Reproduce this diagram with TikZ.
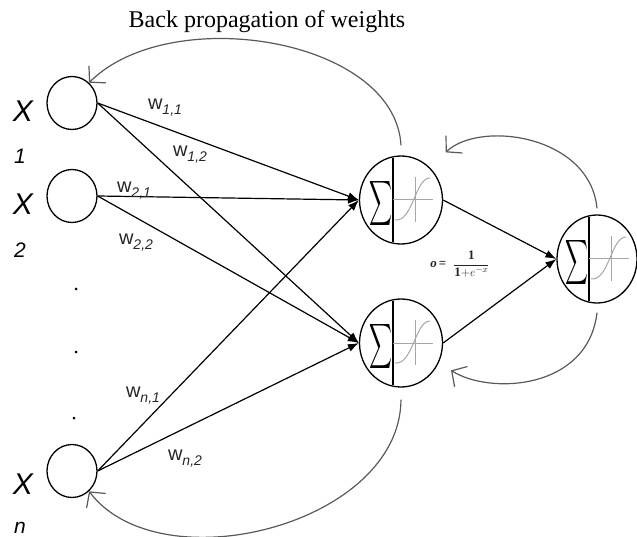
\documentclass[tikz,border=0pt]{standalone}
\usepackage{fontspec}
\setmainfont{Liberation Serif}
\setsansfont{Liberation Sans}
\usetikzlibrary{shapes.geometric,arrows.meta}
\tikzset{
  inp/.style={draw,ellipse,line width=1.3pt,minimum width=50pt,minimum height=53pt,inner sep=0pt},
  neuron/.style={draw,ellipse,line width=1.3pt,minimum width=83pt,minimum height=88pt,inner sep=0pt},
  conn/.style={line width=1.2pt,-{Latex[length=11pt,width=8pt]}},
  back/.style={line width=1.2pt,draw=black!65,-{Straight Barb[length=11pt,width=24pt,line width=1.2pt]}},
  sig/.style={draw=black!35,line width=1pt},
  sigma/.style={inner sep=0pt,anchor=east},
  xlab/.style={font=\sffamily\itshape\fontsize{30}{30}\selectfont,inner sep=0pt},
  ilab/.style={font=\sffamily\itshape\fontsize{21}{21}\selectfont,inner sep=0pt},
  wlab/.style={inner sep=0pt,text=black!85},
  dotn/.style={fill=black,circle,inner sep=0pt,minimum size=3pt}
}
\newcommand{\wl}[1]{\sffamily\fontsize{20}{20}\selectfont w\raisebox{-5pt}{\fontsize{14}{14}\selectfont\itshape #1}}
\newcommand{\neuronbody}[4]{%
  \node[neuron,minimum width=#4pt] (#1) at (#2,#3) {};
  \begin{scope}[shift={(#2,#3)}]
    \draw[line width=1.3pt] (-8,-42) -- (-8,42);
    \node[sigma] (#1s) at (-8,4) {\resizebox{23pt}{33pt}{$\displaystyle\sum$}};
    \draw[sig] (-8,0) -- (32,0);
    \draw[sig] (14,-23) -- (14,22);
    \draw[sig] (-6,20) .. controls (12,22) and (14,-22) .. (29,-22);
  \end{scope}}
\begin{document}
\begin{tikzpicture}[x=1pt,y=-1pt]
\useasboundingbox (0,0) rectangle (637,537);

% title
\node[font=\fontsize{24}{24}\selectfont] (title) at (267,22) {Back propagation of weights};

% inputs
\node[inp] (x1) at (72,103) {};
\node[inp] (x2) at (72,196) {};
\node[inp] (xn) at (72,471) {};

\node[xlab] (lx1) at (23,111) {X};
\node[ilab] (li1) at (20,156) {1};
\node[xlab] (lx2) at (23,204) {X};
\node[ilab] (li2) at (20,250) {2};
\node[xlab] (lxn) at (23,484) {X};
\node[ilab] (lin) at (20,528) {n};

\node[dotn] (d1) at (76,289) {};
\node[dotn] (d2) at (76,352) {};
\node[dotn] (d3) at (74,418) {};

% neurons
\neuronbody{h1}{401}{200}{83}
\neuronbody{h2}{401}{343}{83}
\neuronbody{out}{597}{259}{80}

% forward connections
\draw[conn] (x1.east) -- (h1.west);
\draw[conn] (x1.east) -- (h2.west);
\draw[conn] (x2.east) -- (h1.west);
\draw[conn] (x2.east) -- (h2.west);
\draw[conn] (xn.east) -- (h1.west);
\draw[conn] (xn.east) -- (h2.west);
\draw[conn] (h1.east) -- (out.west);
\draw[conn] (h2.east) -- (out.west);

% weight labels
\node[wlab] (w11) at (165,108) {\wl{1,1}};
\node[wlab] (w12) at (190,155) {\wl{1,2}};
\node[wlab] (w21) at (134,191) {\wl{2,1}};
\node[wlab] (w22) at (136,243) {\wl{2,2}};
\node[wlab] (wn1) at (143,396) {\wl{n,1}};
\node[wlab] (wn2) at (185,459) {\wl{n,2}};

% formula
\node[inner sep=0pt,text=black!85] (formula) at (460,264) {\fontsize{13}{15}\selectfont\bfseries\itshape o\upshape\,= \;$\displaystyle\frac{\mathbf{1}}{\mathbf{1+}e^{-x}}$};

% back propagation arcs
\draw[back] ([yshift=10pt]h1.north) .. controls (395,38) and (170,2) .. (x1.50);
\draw[back] ([yshift=6pt]out.north) .. controls (590,135) and (480,120) .. ([shift={(14pt,17pt)}]h1.45);
\draw[back] ([yshift=-9pt]out.south) .. controls (588,390) and (490,395) .. ([shift={(13pt,-6pt)}]h2.-30);
\draw[back] ([yshift=-12pt]h2.south) .. controls (400,525) and (160,585) .. (xn.-50);
\end{tikzpicture}
\end{document}
